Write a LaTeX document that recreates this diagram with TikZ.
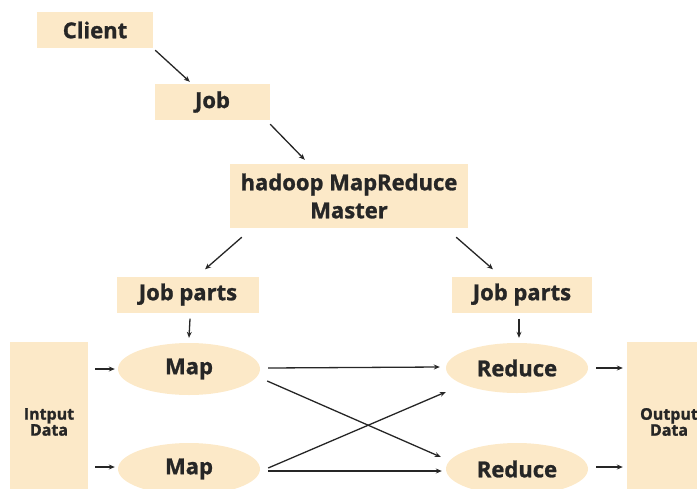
\documentclass[tikz,border=0pt]{standalone}
\usepackage{fontspec}
\setmainfont{Open Sans}[BoldFeatures={FakeBold=1.2}]
\usetikzlibrary{arrows.meta,shapes.geometric}
\definecolor{beige}{HTML}{FCE9C8}
\definecolor{ink}{HTML}{262626}
\begin{document}
\begin{tikzpicture}[x=1pt,y=-1pt,
  box/.style={fill=beige, inner sep=0pt, text=ink, align=center,
    font=\bfseries\fontsize{22}{28}\selectfont},
  oval/.style={box, ellipse},
  side/.style={box, font=\bfseries\fontsize{16}{16}\selectfont},
  arr/.style={draw=ink, line width=1.3pt, -{Stealth[length=6pt,width=5pt]}}]
\useasboundingbox (0,0) rectangle (697,488);

% upper chain
\node[box, minimum width=116pt, minimum height=36pt] (client) at (95,30) {Client};
\node[box, minimum width=115pt, minimum height=36pt] (job) at (212.5,102) {Job};
\node[box, minimum width=238pt, minimum height=64pt] (master) at (349,196)
  {hadoop MapReduce\\Master};
\node[box, minimum width=142pt, minimum height=36pt] (jpl) at (188,294.5) {Job parts};
\node[box, minimum width=140pt, minimum height=36pt] (jpr) at (522,294.5) {Job parts};

% workers
\node[oval, minimum width=142pt, minimum height=52pt] (mapa) at (189,369) {Map};
\node[oval, minimum width=142pt, minimum height=52pt] (mapb) at (189,469) {Map};
\node[oval, minimum width=142pt, minimum height=50pt] (reda) at (517,368) {Reduce};
\node[oval, minimum width=142pt, minimum height=52pt] (redb) at (517,469) {Reduce};

% data stores
\node[side, minimum width=78pt, minimum height=160pt] (input) at (49,422) {Intput\\Data};
\node[side, minimum width=84pt, minimum height=160pt] (output) at (669,422) {Output\\Data};

% connectors
\draw[arr] ([shift={(2,2)}]client.south east) -- ([shift={(35,-2)}]job.north west);
\draw[arr] ([shift={(0,4)}]job.south east) -- ([shift={(75,-4)}]master.north west);
\draw[arr] ([shift={(12,9)}]master.south west) -- ([shift={(17,-7)}]jpl.north);
\draw[arr] ([shift={(-12,9)}]master.south east) -- ([shift={(-29,-7)}]jpr.north);
\draw[arr] ([shift={(2,6)}]jpl.south) -- ([shift={(0,-5)}]mapa.north);
\draw[arr] ([shift={(-3,6)}]jpr.south) -- ([shift={(2,-5)}]reda.north);

\draw[arr] ([xshift=7pt]input.east |- mapa.west) -- ([xshift=-3pt]mapa.west);
\draw[arr] ([xshift=7pt]input.east |- 0,467) -- ([shift={(-3,-2)}]mapb.west);

\draw[arr] ([shift={(8,-1)}]mapa.east) -- ([shift={(-6,-1)}]reda.west);
\draw[arr] ([shift={(7,12)}]mapa.east) -- ([shift={(-5,-12)}]redb.west);
\draw[arr] ([shift={(8,-1)}]mapb.east) -- ([shift={(0,24)}]reda.west);
\draw[arr] ([shift={(8,2)}]mapb.east) -- ([shift={(-4,2)}]redb.west);

\draw[arr] ([xshift=8pt]reda.east) -- ([xshift=-4pt]output.west |- reda.east);
\draw[arr] ([shift={(8,-2)}]redb.east) -- ([xshift=-4pt]output.west |- 0,467);
\end{tikzpicture}
\end{document}
